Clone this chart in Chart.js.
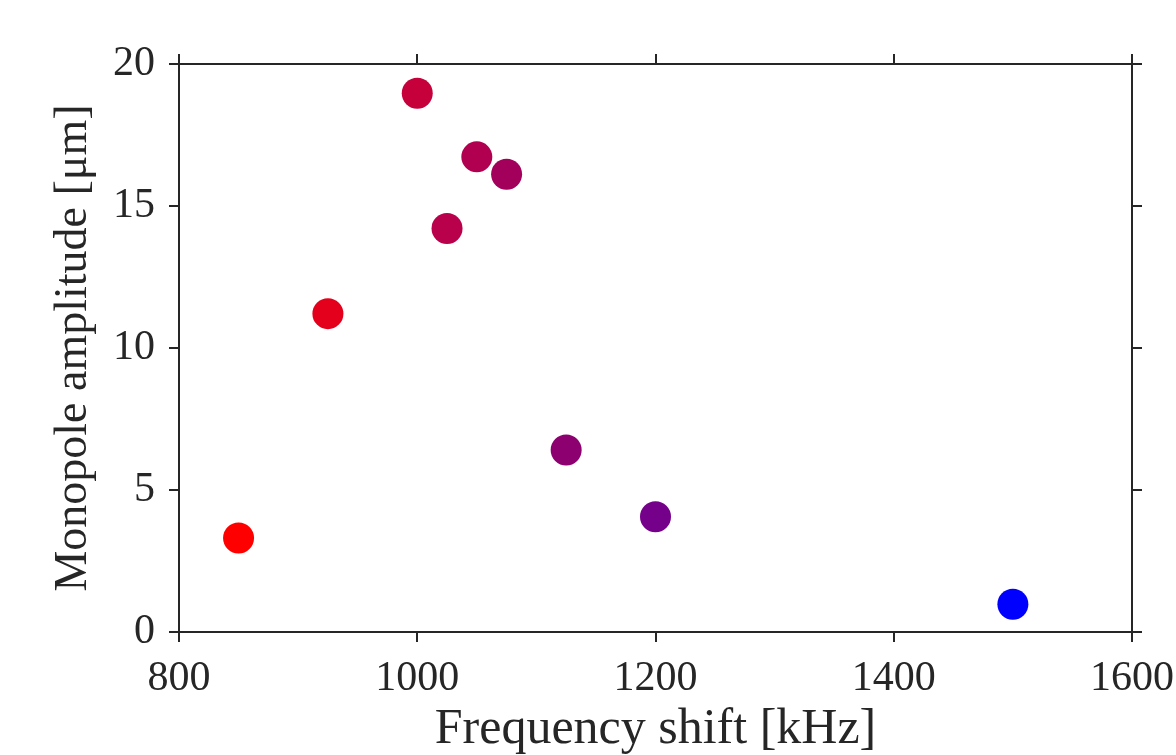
<!DOCTYPE html>
<html>
<head>
<meta charset="utf-8">
<script src="https://cdn.jsdelivr.net/npm/chart.js@4/dist/chart.umd.min.js"></script>
<style>
  html, body { margin: 0; padding: 0; background: #fff; }
  #wrap { width: 1176px; height: 755px; }
</style>
</head>
<body>
<div id="wrap"><canvas id="chart"></canvas></div>
<script>
// values
const freqShift = [850, 925, 1000, 1025, 1050, 1075, 1125, 1200, 1500];
const amplitude = [3.31, 11.21, 18.97, 14.21, 16.73, 16.12, 6.41, 4.06, 0.98];
const pointColors = ['#ff0000', '#e4001c', '#c5003a', '#b9004a', '#b0004f', '#a3005c', '#8c0070', '#75008a', '#0000ff'];
const xTicks = [800, 1000, 1200, 1400, 1600];
const yTicks = [0, 5, 10, 15, 20];

const ink = '#262626';
const serif = "'Liberation Serif', 'Times New Roman', serif";

const points = freqShift.map((f, i) => ({ x: f, y: amplitude[i] }));

function axis(extra) {
    return Object.assign({
        type: 'linear',
        grid: { drawOnChartArea: false, drawTicks: true, tickLength: 10, color: ink, lineWidth: 2 },
        border: { display: true, color: ink, width: 2 },
        ticks: { display: false }
    }, extra);
}

const ctx = document.getElementById('chart').getContext('2d');
new Chart(ctx, {
    type: 'scatter',
    data: {
        datasets: [{
            data: points,
            pointRadius: 15.5,
            pointHoverRadius: 15.5,
            pointBorderWidth: 0,
            pointBackgroundColor: pointColors,
            clip: false
        }]
    },
    options: {
        responsive: true,
        maintainAspectRatio: false,
        animation: false,
        layout: { padding: 0 },
        plugins: { legend: { display: false }, tooltip: { enabled: false } },
        scales: {
            x: axis({
                position: 'bottom',
                min: 800, max: 1600,
                afterBuildTicks: s => { s.ticks = xTicks.map(v => ({ value: v })); },
                afterFit: s => { s.height = 123; s.paddingLeft = 0; s.paddingRight = 0; },
                ticks: {
                    display: true, color: ink, padding: 12,
                    font: { family: serif, size: 42, lineHeight: 1.2 },
                    callback: v => String(v)
                },
                title: {
                    display: true, text: 'Frequency shift [kHz]', color: ink,
                    font: { family: serif, size: 50, lineHeight: 1 }, padding: { top: 0, bottom: 0 }
                }
            }),
            xTop: axis({
                position: 'top',
                min: 800, max: 1600,
                afterBuildTicks: s => { s.ticks = xTicks.map(v => ({ value: v })); },
                afterFit: s => { s.height = 64; s.paddingLeft = 0; s.paddingRight = 0; }
            }),
            y: axis({
                position: 'left',
                min: 0, max: 20,
                afterBuildTicks: s => { s.ticks = yTicks.map(v => ({ value: v })); },
                afterFit: s => { s.width = 179; s.paddingTop = 0; s.paddingBottom = 0; },
                ticks: {
                    display: true, color: ink, padding: 14,
                    font: { family: serif, size: 42, lineHeight: 1.2 },
                    callback: v => String(v)
                },
                title: {
                    display: true, text: 'Monopole amplitude [μm]', color: ink,
                    font: { family: serif, size: 46, lineHeight: 1 }, padding: { top: 51, bottom: 0 }
                }
            }),
            yRight: axis({
                position: 'right',
                min: 0, max: 20,
                afterBuildTicks: s => { s.ticks = yTicks.map(v => ({ value: v })); },
                afterFit: s => { s.width = 44; s.paddingTop = 0; s.paddingBottom = 0; }
            })
        }
    }
});
</script>
</body>
</html>
